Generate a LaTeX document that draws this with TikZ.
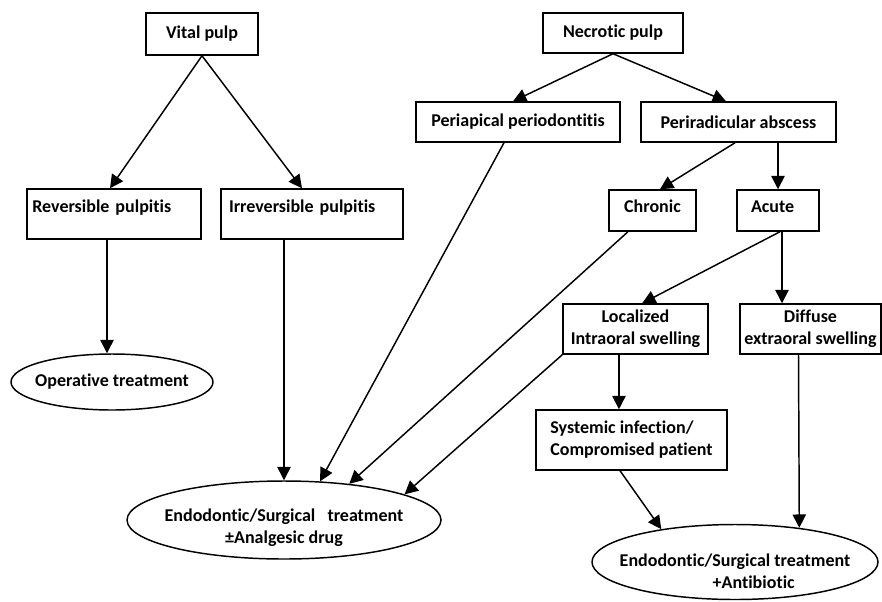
\documentclass[tikz,border=0pt]{standalone}
\usepackage{fontspec}
\setmainfont{Carlito}[Ligatures=NoCommon]
\usetikzlibrary{arrows.meta,shapes.geometric}

\tikzset{every picture/.style={line width=0.75pt}}
\tikzset{
  box/.style={draw, rectangle, line width=1.1pt, inner sep=0pt, align=center,
    font=\bfseries\fontsize{13.5}{16.5}\selectfont},
  oval/.style={draw, ellipse, line width=1.1pt, inner sep=0pt},
  ovaltext/.style={font=\bfseries\fontsize{13.5}{16.5}\selectfont, align=center, inner sep=0pt},
  toptext/.style={text height=10pt, text depth=13pt},
  midtext/.style={text height=10pt, text depth=7.75pt},
  arr/.style={line width=1.1pt, -{Triangle[length=10pt,width=10pt]}}
}

\begin{document}
\begin{tikzpicture}[x=0.75pt,y=0.75pt,yscale=-1,xscale=1]
\useasboundingbox (0,0) rectangle (882,601);

% Boxes
\node[box, minimum width=84pt, minimum height=31.5pt] (vital) at (202,34) {Vital pulp};
\node[box, minimum width=105pt, minimum height=30pt] (necrotic) at (613,33) {Necrotic pulp};
\node[box, minimum width=153pt, minimum height=30pt] (periapical) at (518,122) {Periapical periodontitis};
\node[box, minimum width=146.25pt, minimum height=30pt] (periradicular) at (738.5,122) {Periradicular abscess};
\node[box, toptext, align=left, text width=122.5pt, inner xsep=4pt, minimum height=37.5pt] (reversible) at (114,214) {Reversible pulpitis};
\node[box, toptext, align=left, text width=124.5pt, inner xsep=6pt, minimum height=37.5pt] (irreversible) at (312,214) {Irreversible pulpitis};
\node[box, midtext, minimum width=65.25pt, minimum height=30.75pt] (chronic) at (652.5,210.5) {Chronic};
\node[box, midtext, align=left, text width=40.5pt, inner xsep=10.5pt, minimum height=30.75pt] (acute) at (778,210.5) {Acute};
\node[box, minimum width=108.75pt, minimum height=37.5pt] (localized) at (635.5,329) {Localized\\Intraoral swelling};
\node[box, minimum width=105.75pt, minimum height=37.5pt] (diffuse) at (810.5,329) {Diffuse\\extraoral swelling};
\node[box, align=left, minimum width=143.25pt, minimum height=45pt] (systemic) at (631.5,440) {Systemic infection/\\Compromised patient};

% Ellipses
\node[oval, minimum width=151.5pt, minimum height=42pt,
  label={[ovaltext]center:Operative treatment}] (operative) at (112,382) {};
\node[oval, minimum width=235.5pt, minimum height=58.5pt,
  label={[ovaltext, yshift=-6pt]center:{Endodontic/Surgical\ \ \ treatment\\±Analgesic drug}}] (endoA) at (284,520) {};
\node[oval, minimum width=214.5pt, minimum height=56.25pt,
  label={[ovaltext, yshift=-7pt]center:{Endodontic/Surgical treatment\\\hspace*{28pt}+Antibiotic}}] (endoB) at (735,562) {};

%Straight Lines
\draw[arr] (vital.south) -- ([xshift=-3pt]reversible.north);
\draw[arr] (vital.south) -- ([xshift=-7.5pt]irreversible.north);
\draw[arr] (necrotic.south) -- ([xshift=-3.75pt]periapical.north);
\draw[arr] (necrotic.south) -- ([xshift=-9.4pt]periradicular.north);
\draw[arr] ([xshift=-2.6pt]periradicular.south) -- ([xshift=5.6pt]chronic.north);
\draw[arr] (periradicular.south -| acute.north) -- (acute.north);
\coordinate (reversibleOut) at ([xshift=-5.25pt]reversible.south);
\draw[arr] (reversibleOut) -- (reversibleOut |- operative.north);
\draw[arr] (irreversible.south -| endoA.north) -- (endoA.north);
\draw[arr] ([xshift=-10.5pt]periapical.south) -- (endoA.47);
\draw[arr] ([xshift=-18.4pt]chronic.south) -- (endoA.29);
\draw[arr] (localized.south west) -- (endoA.12);
\draw[arr] ([xshift=1.5pt]acute.south) -- ([xshift=5pt]localized.north);
\coordinate (acuteOut) at ([xshift=3pt]acute.south);
\draw[arr] (acuteOut) -- (acuteOut |- diffuse.north);
\coordinate (localizedOut) at ([xshift=-12.4pt]localized.south);
\draw[arr] (localizedOut) -- (localizedOut |- systemic.north);
\draw[arr] ([xshift=-8.6pt]systemic.south) -- (endoB.156);
\draw[arr] ([xshift=-9pt]diffuse.south) -- (endoB.28);

\end{tikzpicture}
\end{document}
